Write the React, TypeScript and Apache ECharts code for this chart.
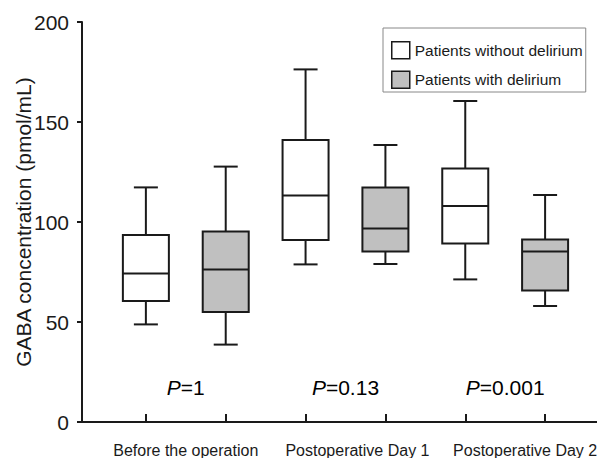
import React, { useEffect, useRef } from "react";
import * as echarts from "echarts";

// Groups along the x axis
const categories = ["Before the operation", "Postoperative Day 1", "Postoperative Day 2"];
// Box positions on the x value scale
const withoutX = [2, 6, 10];
const withX = [4, 8, 12];
const groupCenters = [3, 7, 11];
const labelPositions = [3, 7.3, 11.5];
// [min, Q1, median, Q3, max]
const withoutDelirium = [
  [48.8, 60.5, 74.3, 93.5, 117.3],
  [78.8, 91, 113.2, 141, 176.3],
  [71.3, 89.3, 108, 126.8, 160.5],
];
const withDelirium = [
  [38.7, 55, 76.3, 95.3, 127.7],
  [79, 85.2, 96.8, 117.2, 138.5],
  [58, 65.7, 85.2, 91.3, 113.5],
];
const pValues = ["1", "0.13", "0.001"];
const pValueY = 17.5;
const seriesNames = ["Patients without delirium", "Patients with delirium"];

const FONT = "'Liberation Sans', Arial, Helvetica, sans-serif";
const INK = "#1a1a1a";
const GRAY = "#c0c0c0";

function makeRender(fill: string) {
  return (params: any, api: any) => {
    const x = api.value(0);
    const mn = api.coord([x, api.value(1)]);
    const q1 = api.coord([x, api.value(2)]);
    const md = api.coord([x, api.value(3)]);
    const q3 = api.coord([x, api.value(4)]);
    const mx = api.coord([x, api.value(5)]);
    const cx = mn[0];
    const hw = 23;
    const cw = 12;
    const st = { stroke: INK, lineWidth: 2 };
    return {
      type: "group",
      children: [
        { type: "line", shape: { x1: cx, y1: mx[1], x2: cx, y2: q3[1] }, style: st },
        { type: "line", shape: { x1: cx - cw, y1: mx[1], x2: cx + cw, y2: mx[1] }, style: st },
        { type: "line", shape: { x1: cx, y1: q1[1], x2: cx, y2: mn[1] }, style: st },
        { type: "line", shape: { x1: cx - cw, y1: mn[1], x2: cx + cw, y2: mn[1] }, style: st },
        {
          type: "rect",
          shape: { x: cx - hw, y: q3[1], width: hw * 2, height: q1[1] - q3[1] },
          style: { fill, stroke: INK, lineWidth: 2 },
        },
        { type: "line", shape: { x1: cx - hw, y1: md[1], x2: cx + hw, y2: md[1] }, style: st },
      ],
    };
  };
}

export default function App() {
  const ref = useRef<HTMLDivElement>(null);
  useEffect(() => {
    if (!ref.current) return;
    const chart = echarts.init(ref.current, null, { renderer: "svg" });
    const option: any = {
      animation: false,
      backgroundColor: "#fff",
      textStyle: { fontFamily: FONT },
      grid: { left: 82, right: 0, top: 22, bottom: 36, containLabel: false, outerBoundsMode: "none" },
      legend: {
        orient: "vertical",
        left: 383,
        top: 28,
        padding: [13, 3, 3, 8],
        itemWidth: 18,
        itemHeight: 17,
        itemGap: 11,
        borderColor: "#888",
        borderWidth: 1,
        textStyle: { fontSize: 15.5, color: INK, fontFamily: FONT },
        data: [
          { name: seriesNames[0], icon: "rect", itemStyle: { color: "#fff", borderColor: INK, borderWidth: 1.5 } },
          { name: seriesNames[1], icon: "rect", itemStyle: { color: GRAY, borderColor: INK, borderWidth: 1.5 } },
        ],
      },
      xAxis: {
        type: "value",
        min: 0.4,
        max: 13.3,
        splitLine: { show: false },
        axisLine: { show: true, lineStyle: { color: INK, width: 2 } },
        axisTick: { show: true, inside: true, length: 8, lineStyle: { color: INK, width: 2 }, customValues: [...withoutX, ...withX].sort((a, b) => a - b) },
        axisLabel: {
          show: true,
          customValues: labelPositions,
          formatter: (v: number) => {
            const i = labelPositions.findIndex((p) => Math.abs(p - v) < 1e-6);
            return i >= 0 ? categories[i] : "";
          },
          fontSize: 16,
          color: INK,
          margin: 20,
          fontFamily: FONT,
        },
      },
      yAxis: {
        type: "value",
        min: 0,
        max: 200,
        interval: 50,
        name: "GABA concentration (pmol/mL)",
        nameLocation: "middle",
        nameGap: 48,
        nameMoveOverlap: false,
        nameTextStyle: { fontSize: 21, color: INK, fontFamily: FONT },
        splitLine: { show: false },
        axisLine: { show: true, lineStyle: { color: INK, width: 2 } },
        axisTick: { show: true, inside: false, length: 5, lineStyle: { color: INK, width: 2 } },
        axisLabel: { fontSize: 21, color: INK, margin: 13, fontFamily: FONT },
      },
      series: [
        {
          type: "custom",
          name: seriesNames[0],
          itemStyle: { color: "#fff", borderColor: INK },
          renderItem: makeRender("#fff"),
          encode: { x: 0, y: [1, 2, 3, 4, 5] },
          data: withoutDelirium.map((d, i) => [withoutX[i], ...d]),
        },
        {
          type: "custom",
          name: seriesNames[1],
          itemStyle: { color: GRAY, borderColor: INK },
          renderItem: makeRender(GRAY),
          encode: { x: 0, y: [1, 2, 3, 4, 5] },
          data: withDelirium.map((d, i) => [withX[i], ...d]),
        },
        {
          type: "scatter",
          name: "p",
          symbolSize: 0,
          silent: true,
          itemStyle: { opacity: 1 },
          data: pValues.map((p, i) => [groupCenters[i], pValueY, p]),
          label: {
            show: true,
            position: "inside",
            opacity: 1,
            formatter: (prm: any) => `{i|P}{n|=${prm.value[2]}}`,
            rich: {
              i: { fontStyle: "italic", fontSize: 21, color: "#000", fontFamily: FONT },
              n: { fontSize: 21, color: "#000", fontFamily: FONT },
            },
          },
        },
      ],
    };
    chart.setOption(option);
    return () => chart.dispose();
  }, []);
  return (
    <div
      ref={ref}
      style={{ position: "absolute", left: 0, top: 0, width: 597, height: 458 }}
    />
  );
}
